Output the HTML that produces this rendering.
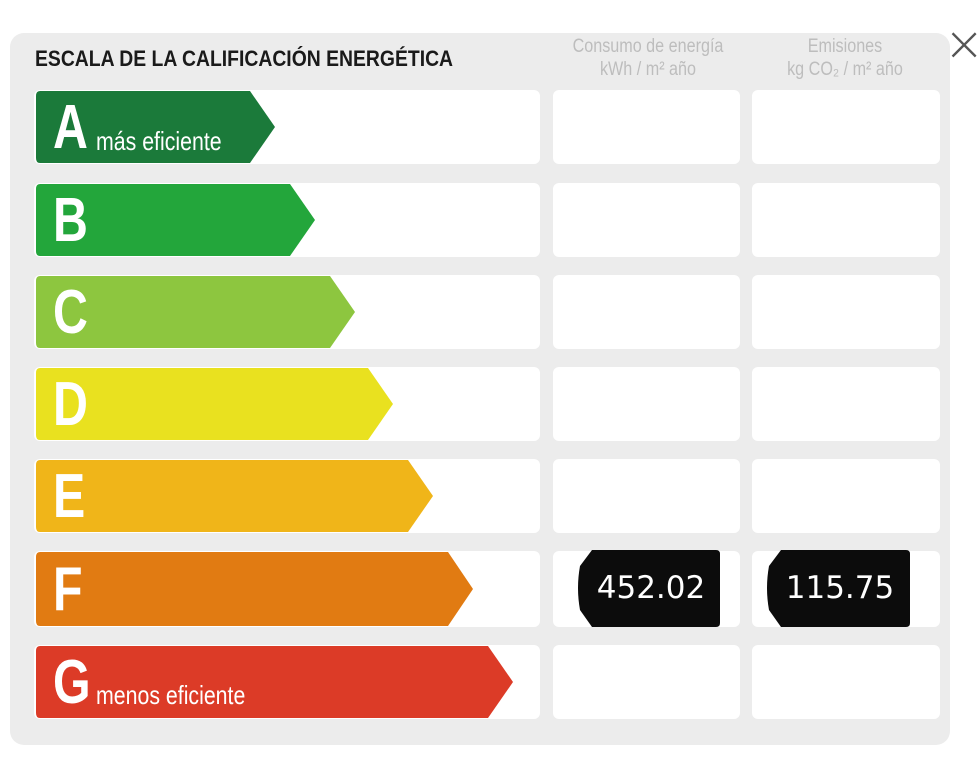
<!DOCTYPE html>
<html><head><meta charset="utf-8"><style>
body{margin:0;width:977px;height:768px;background:#fff;position:relative;overflow:hidden;font-family:"Liberation Sans Narrow","Liberation Sans",sans-serif}
.panel{position:absolute;left:10px;top:33px;width:940px;height:712px;background:#ececec;border-radius:14px}
.title{position:absolute;left:35px;top:46px;font-weight:bold;font-size:22px;color:#1a1a1a;transform:scaleX(0.88);transform-origin:left}
.hdr{position:absolute;color:#bdbdbd;font-size:19px;text-align:center;line-height:23px;transform:scaleX(0.85)}
.x{position:absolute;left:944px;top:22px;font-size:48px;color:#555;font-family:"DejaVu Sans",sans-serif;font-weight:200;line-height:44px}
.lt{position:absolute;color:#fff;font-weight:bold;font-size:62px;line-height:62px;transform:scaleX(0.78);transform-origin:left}
.sub{position:absolute;color:#fff;font-size:26px;transform:scaleX(0.82);transform-origin:left}
.badge{position:absolute;color:#fff;font-family:"DejaVu Sans",sans-serif;font-size:31px;text-align:center;line-height:76px}
</style></head><body>
<div class="panel"></div>
<div class="title">ESCALA DE LA CALIFICACIÓN ENERGÉTICA</div>
<div class="hdr" style="left:548px;top:35px;width:200px">Consumo de energía<br>kWh / m² año</div>
<div class="hdr" style="left:745px;top:35px;width:200px">Emisiones<br>kg CO₂ / m² año</div>
<div class="x">×</div>
<svg width="977" height="768" style="position:absolute;left:0;top:0">
<g fill="#fff">
<rect x="34" y="90" width="506" height="74" rx="6"/><rect x="553" y="90" width="187" height="74" rx="6"/><rect x="752" y="90" width="188" height="74" rx="6"/>
<rect x="34" y="183" width="506" height="74" rx="6"/><rect x="553" y="183" width="187" height="74" rx="6"/><rect x="752" y="183" width="188" height="74" rx="6"/>
<rect x="34" y="275" width="506" height="74" rx="6"/><rect x="553" y="275" width="187" height="74" rx="6"/><rect x="752" y="275" width="188" height="74" rx="6"/>
<rect x="34" y="367" width="506" height="74" rx="6"/><rect x="553" y="367" width="187" height="74" rx="6"/><rect x="752" y="367" width="188" height="74" rx="6"/>
<rect x="34" y="459" width="506" height="74" rx="6"/><rect x="553" y="459" width="187" height="74" rx="6"/><rect x="752" y="459" width="188" height="74" rx="6"/>
<rect x="34" y="551" width="506" height="76" rx="6"/><rect x="553" y="551" width="187" height="76" rx="6"/><rect x="752" y="551" width="188" height="76" rx="6"/>
<rect x="34" y="645" width="506" height="74" rx="6"/><rect x="553" y="645" width="187" height="74" rx="6"/><rect x="752" y="645" width="188" height="74" rx="6"/>
</g>
<path d="M40 91H250L275 127L250 163H40Q36 163 36 158V96Q36 91 40 91Z" fill="#1b7a3a"/>
<path d="M40 184H290L315 220L290 256H40Q36 256 36 251V189Q36 184 40 184Z" fill="#23a63b"/>
<path d="M40 276H330L355 312L330 348H40Q36 348 36 343V281Q36 276 40 276Z" fill="#8dc63f"/>
<path d="M40 368H368L393 404L368 440H40Q36 440 36 435V373Q36 368 40 368Z" fill="#e9e11f"/>
<path d="M40 460H408L433 496L408 532H40Q36 532 36 527V465Q36 460 40 460Z" fill="#f0b519"/>
<path d="M40 552H448L473 589L448 626H40Q36 626 36 621V557Q36 552 40 552Z" fill="#e17b12"/>
<path d="M40 646H488L513 682L488 718H40Q36 718 36 713V651Q36 646 40 646Z" fill="#dc3b27"/>
<path d="M592 550H716Q720 550 720 554V623Q720 627 716 627H592L580 610Q576 588 580 566Z" fill="#0c0c0c"/>
<path d="M781 550H906Q910 550 910 554V623Q910 627 906 627H781L769 610Q765 588 769 566Z" fill="#0c0c0c"/>
</svg>
<div class="lt" style="left:53px;top:97px">A</div><div class="sub" style="left:96px;top:126px">más eficiente</div>
<div class="lt" style="left:53px;top:190px">B</div>
<div class="lt" style="left:53px;top:282px">C</div>
<div class="lt" style="left:53px;top:374px">D</div>
<div class="lt" style="left:53px;top:466px">E</div>
<div class="lt" style="left:53px;top:559px">F</div>
<div class="lt" style="left:53px;top:652px">G</div><div class="sub" style="left:96px;top:680px">menos eficiente</div>
<div class="badge" style="left:584px;top:550px;width:134px">452.02</div>
<div class="badge" style="left:773px;top:550px;width:134px">115.75</div>
</body></html>
